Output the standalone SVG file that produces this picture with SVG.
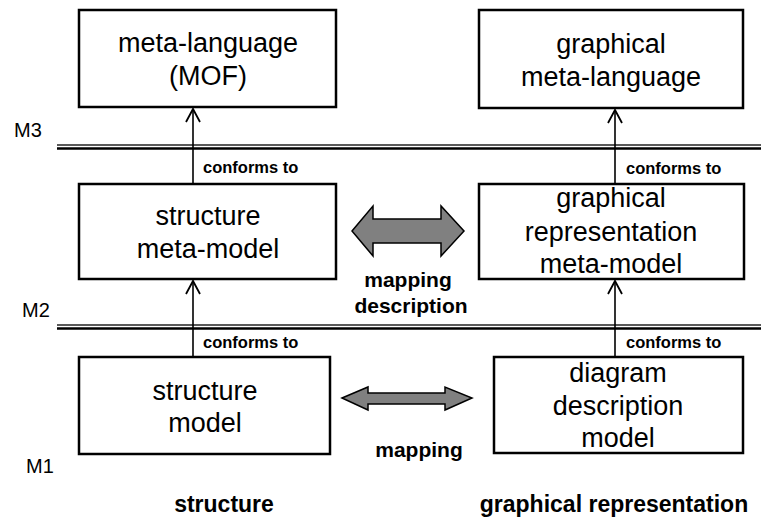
<svg xmlns="http://www.w3.org/2000/svg" width="761" height="518" viewBox="0 0 761 518">
<defs>
<style>
.box{fill:#fff;stroke:#000;stroke-width:2.5}
.t{font-family:"Liberation Sans",Arial,sans-serif;font-size:27px;fill:#000;text-anchor:middle}
.c{font-family:"Liberation Sans",Arial,sans-serif;font-size:16.5px;font-weight:bold;fill:#000}
.b{font-family:"Liberation Sans",Arial,sans-serif;font-size:21px;font-weight:bold;fill:#000;text-anchor:middle}
.f{font-family:"Liberation Sans",Arial,sans-serif;font-size:23px;font-weight:bold;fill:#000;text-anchor:middle}
.m{font-family:"Liberation Sans",Arial,sans-serif;font-size:20px;fill:#000}
.conn{stroke:#000;stroke-width:1.6;fill:none}
.thin{stroke:#222;stroke-width:1.5}
.thick{stroke:#000;stroke-width:2.6}
.garrow{fill:#808080;stroke:#000;stroke-width:1.5;stroke-linejoin:miter}
</style>
<marker id="open" markerWidth="16" markerHeight="18" refX="14" refY="8" orient="auto" markerUnits="userSpaceOnUse">
<path d="M1,1 L14,8 L1,15" fill="none" stroke="#000" stroke-width="1.8"/>
</marker>
</defs>
<rect width="761" height="518" fill="#fff"/>

<g id="levels">
<line class="thin" x1="57" y1="145" x2="761" y2="145"/>
<line class="thick" x1="57" y1="148.5" x2="761" y2="148.5"/>
<line class="thin" x1="57" y1="325" x2="761" y2="325"/>
<line class="thick" x1="57" y1="328.5" x2="761" y2="328.5"/>
<text class="m" x="14" y="137">M3</text>
<text class="m" x="22" y="317">M2</text>
<text class="m" x="26" y="473">M1</text>
</g>

<g id="meta-language">
<rect class="box" x="79" y="10" width="257" height="97"/>
<text class="t" x="208" y="52">meta-language</text>
<text class="t" x="208" y="85">(MOF)</text>
</g>

<g id="graphical-meta-language">
<rect class="box" x="479" y="10" width="264" height="98"/>
<text class="t" x="611" y="53">graphical</text>
<text class="t" x="611" y="86">meta-language</text>
</g>

<g id="structure-meta-model">
<rect class="box" x="79" y="184" width="257" height="95"/>
<text class="t" x="208" y="225">structure</text>
<text class="t" x="208" y="258">meta-model</text>
</g>

<g id="graphical-representation-meta-model">
<rect class="box" x="479" y="184" width="265" height="95"/>
<text class="t" x="611" y="207">graphical</text>
<text class="t" x="611" y="241">representation</text>
<text class="t" x="611" y="273">meta-model</text>
</g>

<g id="structure-model">
<rect class="box" x="79" y="357" width="251" height="97"/>
<text class="t" x="205" y="400">structure</text>
<text class="t" x="205" y="432">model</text>
</g>

<g id="diagram-description-model">
<rect class="box" x="494" y="357" width="249" height="96"/>
<text class="t" x="618" y="382">diagram</text>
<text class="t" x="618" y="415">description</text>
<text class="t" x="618" y="447">model</text>
</g>

<g id="connectors">
<line class="conn" x1="193" y1="184" x2="193" y2="109" marker-end="url(#open)"/>
<line class="conn" x1="615" y1="184" x2="615" y2="110" marker-end="url(#open)"/>
<line class="conn" x1="193" y1="357" x2="193" y2="281" marker-end="url(#open)"/>
<line class="conn" x1="615" y1="357" x2="615" y2="281" marker-end="url(#open)"/>
<text class="c" x="203" y="173">conforms to</text>
<text class="c" x="626" y="174">conforms to</text>
<text class="c" x="203" y="348">conforms to</text>
<text class="c" x="626" y="348">conforms to</text>
<polygon class="garrow" points="352,231 373,206 373,219 441,219 441,206 464,231 441,256 441,243 373,243 373,256"/>
<polygon class="garrow" points="342,398 368,387 368,393 445,393 445,387 472,398 445,410 445,404 368,404 368,410"/>
<text class="b" x="408" y="287">mapping</text>
<text class="b" x="411" y="313">description</text>
<text class="b" x="419" y="457">mapping</text>
</g>

<g id="column-labels">
<text class="f" x="224" y="512">structure</text>
<text class="f" x="614" y="512">graphical representation</text>
</g>
</svg>
